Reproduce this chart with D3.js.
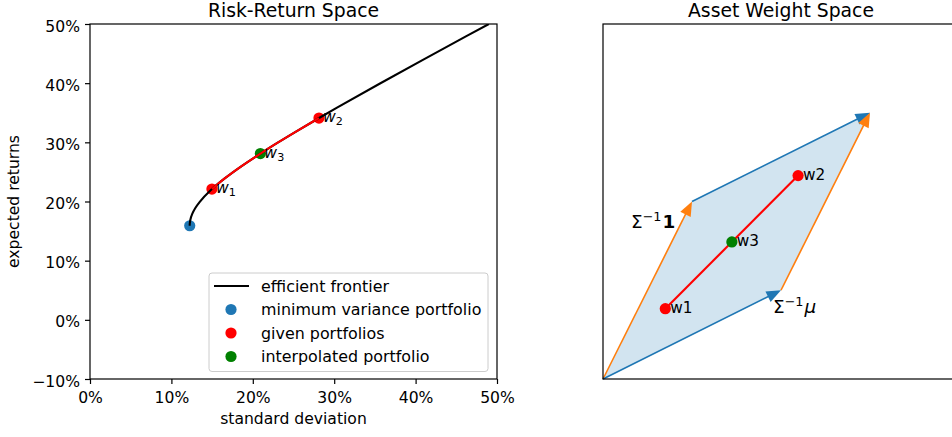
<!DOCTYPE html>
<html>
<head>
<meta charset="utf-8">
<script src="https://cdn.jsdelivr.net/npm/d3@7"></script>
<style>
  html, body { margin: 0; padding: 0; background: #fff; }
  svg { display: block; font-family: "DejaVu Sans", sans-serif; }
</style>
</head>
<body>
<svg id="chart" width="952" height="437"></svg>
<script>
// Efficient frontier (standard deviation vs expected return)
const frontierReturn = [0.159, 0.161, 0.164, 0.169, 0.179, 0.189, 0.199, 0.219, 0.239, 0.259, 0.279, 0.299, 0.319, 0.339, 0.359, 0.399, 0.439, 0.479, 0.500];
const frontierRisk   = [0.1225, 0.1225, 0.1227, 0.1233, 0.1256, 0.1294, 0.1346, 0.1482, 0.1655, 0.1854, 0.2071, 0.2301, 0.2541, 0.2788, 0.3040, 0.3557, 0.4084, 0.4618, 0.4900];

// Portfolios in risk-return space: [std dev, return]
const minVariance = [0.1225, 0.159];
const givenPortfolios = [[0.1498, 0.221], [0.2813, 0.341]];
const interpolated = [0.2093, 0.281];
const riskReturnLabels = ["1", "2", "3"];

// Asset weight space: basis vectors and portfolio weights
const sigmaInvOne = [0.25, 0.50];
const sigmaInvMu  = [0.50, 0.25];
const givenWeights = [[0.175, 0.198], [0.548, 0.573]];
const interpWeight = [0.362, 0.386];
const weightLabels = ["w1", "w2", "w3"];

const xTicks = [0, 0.1, 0.2, 0.3, 0.4, 0.5];
const yTicks = [-0.1, 0, 0.1, 0.2, 0.3, 0.4, 0.5];
const legendItems = ["efficient frontier", "minimum variance portfolio", "given portfolios", "interpolated portfolio"];

const C_BLUE = "#1f77b4", C_ORANGE = "#ff7f0e", C_RED = "#ff0000", C_GREEN = "#008000";
const FS = 15.6;

const svg = d3.select("#chart");
const pct = d => (d < 0 ? "\u2212" : "") + Math.round(Math.abs(d) * 100) + "%";

// ---------- Left panel: risk-return space ----------
const L = { x0: 90, x1: 497, y0: 24, y1: 379 };
const x = d3.scaleLinear().domain([0, 0.5]).range([L.x0, L.x1]);
const y = d3.scaleLinear().domain([-0.1, 0.5]).range([L.y1, L.y0]);

svg.append("clipPath").attr("id", "clipL")
  .append("rect").attr("x", L.x0).attr("y", L.y0)
  .attr("width", L.x1 - L.x0).attr("height", L.y1 - L.y0);

const left = svg.append("g");
const plotL = left.append("g").attr("clip-path", "url(#clipL)");

// scatter points (drawn under the lines)
plotL.append("circle").attr("cx", x(minVariance[0])).attr("cy", y(minVariance[1]))
  .attr("r", 5.6).attr("fill", C_BLUE);
plotL.selectAll("circle.given").data(givenPortfolios).join("circle")
  .attr("class", "given")
  .attr("cx", d => x(d[0])).attr("cy", d => y(d[1])).attr("r", 5.6).attr("fill", C_RED);
plotL.append("circle").attr("cx", x(interpolated[0])).attr("cy", y(interpolated[1]))
  .attr("r", 5.6).attr("fill", C_GREEN);

const frontier = frontierReturn.map((r, i) => [frontierRisk[i], r]);
const line = d3.line().x(d => x(d[0])).y(d => y(d[1])).curve(d3.curveMonotoneY);

plotL.append("path").datum(frontier).attr("d", line)
  .attr("fill", "none").attr("stroke", "#000").attr("stroke-width", 2.1);

const segment = [givenPortfolios[0]]
  .concat(frontier.filter(p => p[1] > givenPortfolios[0][1] && p[1] < givenPortfolios[1][1]))
  .concat([givenPortfolios[1]]);
plotL.append("path").datum(segment).attr("d", line)
  .attr("fill", "none").attr("stroke", C_RED).attr("stroke-width", 2.1);

// w_i labels (italic w with subscript)
const rrPoints = [givenPortfolios[0], givenPortfolios[1], interpolated];
rrPoints.forEach((p, i) => {
  const t = left.append("text")
    .attr("x", x(p[0]) + 4).attr("y", y(p[1]) + 4)
    .attr("font-size", FS).attr("fill", "#000");
  t.append("tspan").attr("font-style", "italic").text("w");
  t.append("tspan").attr("font-size", 11.2).attr("dy", 3).text(riskReturnLabels[i]);
});

// axes
const xAxis = d3.axisBottom(x).tickValues(xTicks).tickFormat(pct).tickSize(5).tickPadding(8);
const yAxis = d3.axisLeft(y).tickValues(yTicks).tickFormat(pct).tickSize(5).tickPadding(5);

const gx = left.append("g").attr("transform", `translate(0,${L.y1})`).call(xAxis);
const gy = left.append("g").attr("transform", `translate(${L.x0},0)`).call(yAxis);
[gx, gy].forEach(g => {
  g.select(".domain").remove();
  g.selectAll("line").attr("stroke", "#000").attr("stroke-width", 1.2);
  g.selectAll("text").attr("font-size", FS).attr("font-family", "DejaVu Sans").attr("fill", "#000");
});
gy.selectAll("text").attr("dy", "0.45em");

left.append("rect").attr("x", L.x0).attr("y", L.y0)
  .attr("width", L.x1 - L.x0).attr("height", L.y1 - L.y0)
  .attr("fill", "none").attr("stroke", "#000").attr("stroke-width", 1.2);

left.append("text").attr("x", (L.x0 + L.x1) / 2).attr("y", 16.5)
  .attr("text-anchor", "middle").attr("font-size", 18.8).text("Risk-Return Space");
left.append("text").attr("x", (L.x0 + L.x1) / 2).attr("y", 424)
  .attr("text-anchor", "middle").attr("font-size", FS).text("standard deviation");
left.append("text").attr("transform", `translate(18.5,${(L.y0 + L.y1) / 2}) rotate(-90)`)
  .attr("text-anchor", "middle").attr("font-size", FS).text("expected returns");

// legend
const lg = left.append("g");
lg.append("rect").attr("x", 209).attr("y", 273).attr("width", 279).attr("height", 98.5)
  .attr("rx", 3).attr("fill", "#fff").attr("fill-opacity", 0.8)
  .attr("stroke", "#cccccc").attr("stroke-width", 1);
const rowY = [286, 309.5, 333, 356.5];
lg.append("line").attr("x1", 214).attr("x2", 249).attr("y1", rowY[0]).attr("y2", rowY[0])
  .attr("stroke", "#000").attr("stroke-width", 2.1);
[C_BLUE, C_RED, C_GREEN].forEach((c, i) => {
  lg.append("circle").attr("cx", 231).attr("cy", rowY[i + 1]).attr("r", 5.6).attr("fill", c);
});
legendItems.forEach((s, i) => {
  lg.append("text").attr("x", 261).attr("y", rowY[i] + 5.7)
    .attr("font-size", 15.9).text(s);
});

// ---------- Right panel: asset weight space ----------
const R = { x0: 603, x1: 959, y0: 24, y1: 379 };
const wx = d3.scaleLinear().domain([0, 1]).range([R.x0, R.x1]);
const wy = d3.scaleLinear().domain([0, 1]).range([R.y1, R.y0]);
const right = svg.append("g");

const corner = [sigmaInvOne[0] + sigmaInvMu[0], sigmaInvOne[1] + sigmaInvMu[1]];
const poly = [[0, 0], sigmaInvOne, corner, sigmaInvMu];
right.append("path")
  .attr("d", d3.line().x(d => wx(d[0])).y(d => wy(d[1]))(poly) + "Z")
  .attr("fill", C_BLUE).attr("fill-opacity", 0.2);

function arrow(from, to, color) {
  const x0 = wx(from[0]), y0 = wy(from[1]), x1 = wx(to[0]), y1 = wy(to[1]);
  const dx = x1 - x0, dy = y1 - y0, len = Math.hypot(dx, dy);
  const ux = dx / len, uy = dy / len, px = -uy, py = ux;
  const hl = 14.5, hw = 5.8;
  const bx = x1 - ux * hl, by = y1 - uy * hl;
  right.append("line").attr("x1", x0).attr("y1", y0)
    .attr("x2", x1 - ux * hl * 0.5).attr("y2", y1 - uy * hl * 0.5)
    .attr("stroke", color).attr("stroke-width", 1.6);
  right.append("path")
    .attr("d", `M${x1},${y1}L${bx + px * hw},${by + py * hw}L${bx - px * hw},${by - py * hw}Z`)
    .attr("fill", color);
}
arrow([0, 0], sigmaInvOne, C_ORANGE);
arrow([0, 0], sigmaInvMu, C_BLUE);
arrow(sigmaInvOne, corner, C_BLUE);
arrow(sigmaInvMu, corner, C_ORANGE);

right.append("line")
  .attr("x1", wx(givenWeights[0][0])).attr("y1", wy(givenWeights[0][1]))
  .attr("x2", wx(givenWeights[1][0])).attr("y2", wy(givenWeights[1][1]))
  .attr("stroke", C_RED).attr("stroke-width", 2.1);
right.selectAll("circle.gw").data(givenWeights).join("circle").attr("class", "gw")
  .attr("cx", d => wx(d[0])).attr("cy", d => wy(d[1])).attr("r", 5.6).attr("fill", C_RED);
right.append("circle").attr("cx", wx(interpWeight[0])).attr("cy", wy(interpWeight[1]))
  .attr("r", 5.6).attr("fill", C_GREEN);

[givenWeights[0], givenWeights[1], interpWeight].forEach((p, i) => {
  right.append("text").attr("x", wx(p[0]) + 5).attr("y", wy(p[1]) + 4.5)
    .attr("font-size", 15.3).text(weightLabels[i]);
});

// vector labels
const l1 = right.append("text").attr("x", 631).attr("y", 228).attr("font-size", 18.4);
l1.append("tspan").text("\u03A3");
l1.append("tspan").attr("font-size", 12.8).attr("dy", -7).text("\u22121");
l1.append("tspan").attr("font-weight", "bold").attr("dy", 7).attr("dx", 1).text("1");

const l2 = right.append("text").attr("x", 773).attr("y", 313).attr("font-size", 18.4);
l2.append("tspan").text("\u03A3");
l2.append("tspan").attr("font-size", 12.8).attr("dy", -7).text("\u22121");
l2.append("tspan").attr("font-style", "italic").attr("dy", 7).attr("dx", 1).text("\u03BC");

// spines (no ticks)
right.append("rect").attr("x", R.x0).attr("y", R.y0)
  .attr("width", R.x1 - R.x0).attr("height", R.y1 - R.y0)
  .attr("fill", "none").attr("stroke", "#000").attr("stroke-width", 1.2);

right.append("text").attr("x", (R.x0 + R.x1) / 2).attr("y", 16.5)
  .attr("text-anchor", "middle").attr("font-size", 18.8).text("Asset Weight Space");
</script>
</body>
</html>
